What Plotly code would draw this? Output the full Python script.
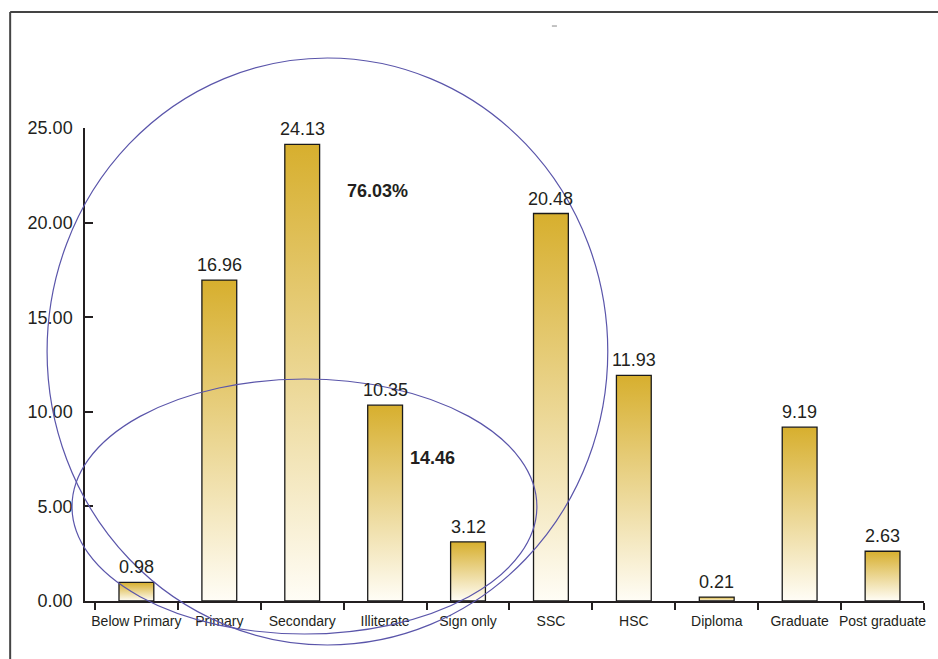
import plotly.graph_objects as go

categories = ["Below Primary", "Primary", "Secondary", "Illiterate", "Sign only",
              "SSC", "HSC", "Diploma", "Graduate", "Post graduate"]
values = [0.98, 16.96, 24.13, 10.35, 3.12, 20.48, 11.93, 0.21, 9.19, 2.63]
y_ticks = [0, 5, 10, 15, 20, 25]
y_tick_text = ["0.00", "5.00", "10.00", "15.00", "20.00", "25.00"]
group_labels = ["76.03%", "14.46"]

FONT = "Liberation Sans, Arial, sans-serif"
TXT = "#231F20"
GOLD = "#D7AF2E"
PALE = "#FFFDF6"
ELL = "#5A55AA"
BAR_HALF = 0.21

fig = go.Figure()
for i, (cat, v) in enumerate(zip(categories, values)):
    fig.add_trace(go.Scatter(
        x=[i - BAR_HALF, i - BAR_HALF, i + BAR_HALF, i + BAR_HALF, i - BAR_HALF],
        y=[0, v, v, 0, 0],
        mode="lines", fill="toself",
        line=dict(color="#1a1a1a", width=1.3),
        fillgradient=dict(type="vertical", colorscale=[[0, PALE], [1, GOLD]]),
        hoverinfo="skip", showlegend=False,
    ))

for i, v in enumerate(values):
    fig.add_annotation(x=i, y=v, text=f"{v:.2f}", showarrow=False,
                       yanchor="bottom", yshift=3,
                       font=dict(family=FONT, size=18, color=TXT))

fig.add_annotation(x=2.91, y=21.67, text=f"<b>{group_labels[0]}</b>", showarrow=False,
                   font=dict(family=FONT, size=18, color=TXT))
fig.add_annotation(x=3.57, y=7.56, text=f"<b>{group_labels[1]}</b>", showarrow=False,
                   font=dict(family=FONT, size=18, color=TXT))

# ellipses (paper coords)
fig.add_shape(type="circle", xref="paper", yref="paper",
              x0=-0.0452, x1=0.6231, y0=-0.0930, y1=1.148,
              line=dict(color=ELL, width=1.2), layer="above")
fig.add_shape(type="circle", xref="paper", yref="paper",
              x0=-0.0155, x1=0.5386, y0=-0.0698, y1=0.4693,
              line=dict(color=ELL, width=1.2), layer="above")
# frame lines
fig.add_shape(type="line", xref="paper", yref="paper", x0=-0.0892, x1=1.02, y0=1.2452, y1=1.2452,
              line=dict(color="#444444", width=2))
fig.add_shape(type="line", xref="paper", yref="paper", x0=-0.0892, x1=-0.0892, y0=1.2452, y1=-0.15,
              line=dict(color="#444444", width=2))
fig.add_shape(type="line", xref="paper", yref="paper", x0=0.5565, x1=0.5625, y0=1.2156, y1=1.2156,
              line=dict(color="#888888", width=1))

fig.update_layout(
    width=938, height=659,
    margin=dict(l=85, r=12, t=128, b=58),
    plot_bgcolor="white", paper_bgcolor="white",
    font=dict(family=FONT, color=TXT),
    xaxis=dict(range=[-0.62, 9.5], showgrid=False, zeroline=False,
               showline=True, linecolor=TXT, linewidth=2,
               tickmode="array", tickvals=list(range(len(categories))), ticktext=categories,
               ticks="", tickfont=dict(family=FONT, size=14, color=TXT),
               ticklabelstandoff=6,
               minor=dict(tickmode="linear", tick0=-0.5, dtick=1, ticks="outside",
                          ticklen=7, tickwidth=2, tickcolor=TXT, showgrid=False)),
    yaxis=dict(range=[0, 25], showgrid=False, zeroline=False,
               showline=True, linecolor=TXT, linewidth=1.5,
               tickmode="array", tickvals=y_ticks, ticktext=y_tick_text,
               ticks="inside", ticklen=8, tickwidth=1.5, tickcolor=TXT,
               tickfont=dict(family=FONT, size=18, color=TXT),
               ticklabelstandoff=7),
)

fig.write_html("out.html")
